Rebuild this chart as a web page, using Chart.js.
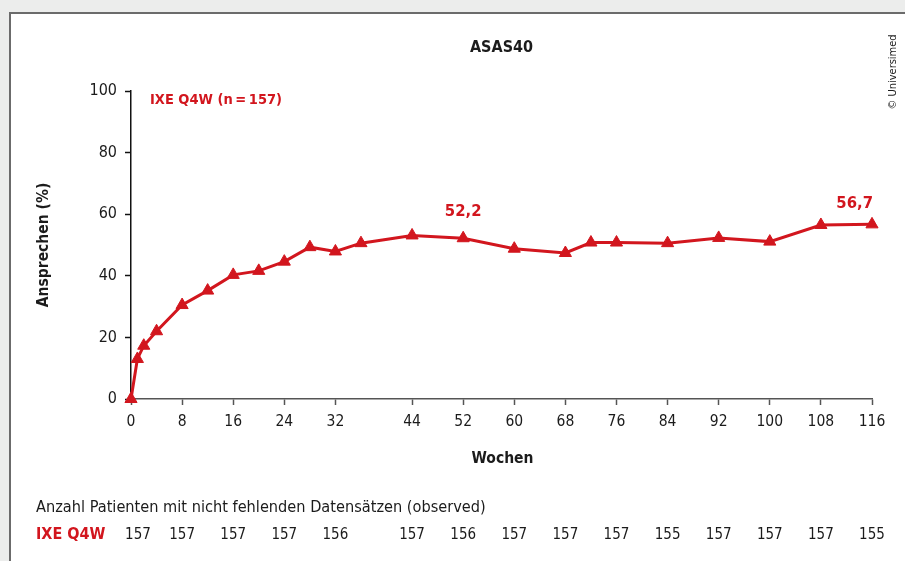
<!DOCTYPE html>
<html>
<head>
<meta charset="utf-8">
<title>ASAS40</title>
<script src="https://cdn.jsdelivr.net/npm/chart.js@4.4.1/dist/chart.umd.min.js"></script>
<style>
  html, body { margin: 0; padding: 0; background: #ecedec; overflow: hidden; }
  #panel {
    position: absolute; left: 9px; top: 12px; width: 910px; height: 560px;
    background: #fff; border-left: 2px solid #6b6b6b; border-top: 2px solid #6b6b6b;
  }
  #wrap { position: absolute; left: 0; top: 0; width: 905px; height: 561px; }
</style>
</head>
<body>
<div id="panel"></div>
<div id="wrap"><canvas id="chart"></canvas></div>
<script>
// ASAS40 response over time, IXE Q4W arm
const weeks  = [0, 1, 2, 4, 8, 12, 16, 20, 24, 28, 32, 36, 44, 52, 60, 68, 72, 76, 84, 92, 100, 108, 116];
const values = [0, 13.0, 17.3, 22.0, 30.5, 35.2, 40.3, 41.6, 44.6, 49.3, 47.9, 50.6, 53.1, 52.2, 48.8, 47.4, 50.8, 50.8, 50.6, 52.3, 51.1, 56.5, 56.7];

const tickWeeks  = [0, 8, 16, 24, 32, 44, 52, 60, 68, 76, 84, 92, 100, 108, 116];
const patientN   = [157, 157, 157, 157, 156, 157, 156, 157, 157, 157, 155, 157, 157, 157, 155];
const labelWeeks = [52, 116];

const seriesName  = 'IXE Q4W';
const seriesTotal = 157;

const RED = '#d2161e';
const INK = '#1b1b1b';
const FONT = "'Liberation Sans Narrow', 'DejaVu Sans Condensed', 'Noto Sans', sans-serif";

function fmt(v) {
  return v.toFixed(1).replace('.', ',');
}

function text(ctx, str, x, y, opts) {
  ctx.save();
  ctx.font = (opts.bold ? 'bold ' : '') + opts.size + 'px ' + FONT;
  ctx.fillStyle = opts.color || INK;
  ctx.textAlign = opts.align || 'center';
  ctx.textBaseline = 'middle';
  ctx.translate(x, y);
  if (opts.rotate) ctx.rotate(opts.rotate);
  ctx.fillText(str, 0, 0);
  ctx.restore();
}

const extraText = {
  id: 'extraText',
  afterDraw(chart) {
    const ctx = chart.ctx;
    const area = chart.chartArea;
    const xs = chart.scales.x;
    const midX = (area.left + area.right) / 2;
    const midY = (area.top + area.bottom) / 2;

    text(ctx, 'ASAS40', midX, 48, { size: 16, bold: true });
    text(ctx, seriesName + ' (n\u2009=\u2009' + seriesTotal + ')', area.left + 19, area.top + 9,
         { size: 14.5, bold: true, color: RED, align: 'left' });

    // value labels above selected points
    const meta = chart.getDatasetMeta(0);
    labelWeeks.forEach(w => {
      const i = weeks.indexOf(w);
      const pt = meta.data[i];
      const last = i === weeks.length - 1;
      text(ctx, fmt(values[i]), last ? pt.x + 1 : pt.x, pt.y - (last ? 21 : 27),
           { size: 16.5, bold: true, color: RED, align: last ? 'right' : 'center' });
    });

    text(ctx, 'Ansprechen (%)', 44, midY, { size: 15.5, bold: true, rotate: -Math.PI / 2 });
    text(ctx, 'Wochen', midX + 1, 459, { size: 15.5, bold: true });

    text(ctx, 'Anzahl Patienten mit nicht fehlenden Datens\u00e4tzen (observed)', 36, 508,
         { size: 16.2, align: 'left' });
    text(ctx, seriesName, 36, 535, { size: 16, bold: true, color: RED, align: 'left' });
    tickWeeks.forEach((w, i) => {
      // first count sits a little right of its tick to clear the row label
      const x = xs.getPixelForValue(w) + (i === 0 ? 7 : 0);
      text(ctx, String(patientN[i]), x, 535, { size: 15 });
    });

    text(ctx, '\u00a9 Universimed', 893, 72, { size: 11, rotate: -Math.PI / 2 });
  }
};

new Chart(document.getElementById('chart'), {
  type: 'line',
  data: {
    datasets: [{
      label: seriesName,
      data: weeks.map((w, i) => ({ x: w, y: values[i] })),
      borderColor: RED,
      backgroundColor: RED,
      borderWidth: 3,
      pointStyle: 'triangle',
      pointRadius: 7,
      pointBorderWidth: 1,
      pointBorderColor: RED,
      pointBackgroundColor: RED,
      tension: 0,
      clip: false
    }]
  },
  options: {
    responsive: true,
    maintainAspectRatio: false,
    animation: false,
    layout: { padding: { left: 0, right: 33, top: 91, bottom: 122 } },
    plugins: {
      legend: { display: false },
      title: { display: false },
      tooltip: { enabled: false }
    },
    scales: {
      x: {
        type: 'linear',
        min: 0,
        max: 116,
        afterBuildTicks: scale => { scale.ticks = tickWeeks.map(v => ({ value: v })); },
        afterFit: scale => { scale.height = 40; },
        grid: { drawOnChartArea: false, drawTicks: true, tickLength: 6, tickColor: '#555', tickWidth: 1.5 },
        border: { display: true, color: '#555', width: 1.5 },
        ticks: { color: INK, font: { family: FONT, size: 15.5 }, padding: 8, maxRotation: 0, autoSkip: false }
      },
      y: {
        min: 0,
        max: 100,
        afterFit: scale => { scale.width = 131; },
        grid: { drawOnChartArea: false, drawTicks: true, tickLength: 6, tickColor: '#111', tickWidth: 1.5 },
        border: { display: true, color: '#111', width: 1.5 },
        ticks: { stepSize: 20, color: INK, font: { family: FONT, size: 16 }, padding: 8 }
      }
    }
  },
  plugins: [extraText]
});
</script>
</body>
</html>
